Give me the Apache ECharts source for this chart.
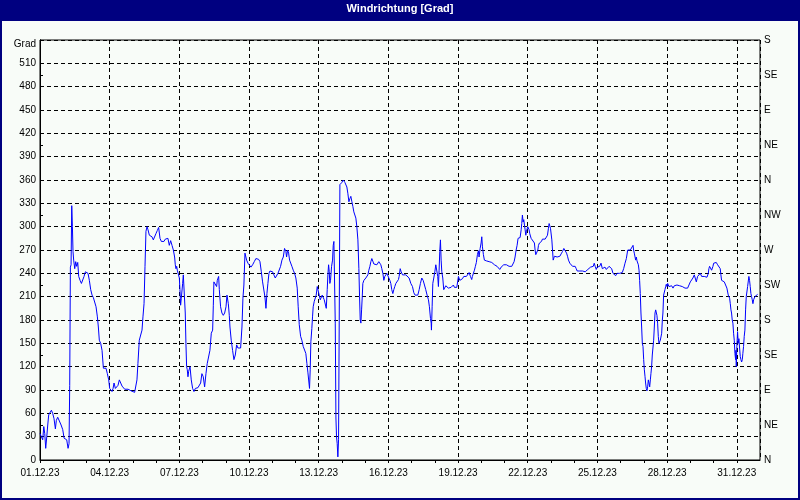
<!DOCTYPE html>
<html><head><meta charset="utf-8">
<script src="https://cdn.jsdelivr.net/npm/echarts@6/dist/echarts.min.js"></script>
<style>html,body{margin:0;padding:0;background:#F8FCF8}#c{width:800px;height:500px}</style>
</head><body><div id="c"></div>
<script>
const titleText = 'Windrichtung [Grad]';
const unitLabel = 'Grad';
const dateLabels = ['01.12.23','04.12.23','07.12.23','10.12.23','13.12.23','16.12.23','19.12.23','22.12.23','25.12.23','28.12.23','31.12.23'];
const compassLabels = ['N','NE','E','SE','S','SW','W','NW','N','NE','E','SE','S'];
// [hours since 01.12.23 00:00, wind direction in degrees]
const directionReadings = [
[0,34],[1.4,30],[2.8,26],[3.9,43],[4.9,34],[5.9,15],[7.0,30],[8.0,45],[9.0,58],[10.4,56],[11.8,64],[13.1,60],[14.5,53],[15.9,40],[16.9,51],[18.3,55],[20.0,54],[21.8,45],[23.5,39],[24.9,28],[26.2,26],[27.6,26],[29.0,15],[30.0,21],[30.7,96],[31.4,248],[32.1,251],[32.8,327],[33.5,300],[34.1,268],[34.8,257],[35.9,246],[36.9,255],[37.9,249],[39.0,254],[40.0,236],[41.4,231],[42.8,227],[44.1,229],[45.5,236],[46.9,242],[48.2,241],[49.6,240],[51.0,231],[52.4,219],[53.8,212],[55.1,209],[56.5,208],[57.9,197],[59.3,184],[60.3,171],[61.3,154],[62.7,150],[64.1,141],[65.5,118],[66.8,116],[68.2,118],[69.6,111],[71.0,103],[72.0,92],[73.4,92],[74.4,88],[75.5,92],[76.5,99],[77.9,92],[79.2,91],[80.6,96],[82.0,103],[83.4,99],[84.8,95],[86.1,93],[87.5,91],[88.9,90],[91.0,91],[92.3,90],[94.0,89],[95.7,88],[97.8,87],[99.2,89],[100.2,103],[101.2,124],[102.6,154],[104.0,156],[105.4,167],[106.4,184],[107.5,201],[108.5,249],[109.5,294],[110.6,300],[111.6,296],[113.0,289],[114.3,291],[115.7,287],[117.1,283],[118.5,281],[119.8,291],[121.2,295],[122.6,299],[124.0,285],[125.4,281],[126.7,279],[128.1,281],[129.5,284],[130.9,282],[132.2,285],[133.6,276],[135.0,282],[136.4,276],[137.8,270],[139.1,261],[139.8,251],[140.5,246],[141.2,249],[141.9,244],[142.9,246],[144.0,234],[144.6,219],[145.3,199],[146.0,208],[146.7,210],[147.4,227],[148.1,238],[149.1,238],[150.1,189],[150.8,150],[151.5,120],[152.2,116],[152.9,107],[153.6,114],[154.3,116],[155.0,120],[156.3,103],[157.7,92],[159.1,88],[160.5,92],[161.8,91],[163.2,93],[164.6,95],[166.0,99],[167.3,111],[168.7,107],[170.1,94],[171.5,111],[172.8,124],[174.2,125],[175.6,141],[177.0,163],[178.4,167],[179.1,199],[179.7,229],[181.1,229],[182.5,223],[183.2,231],[184.6,236],[185.3,219],[186.6,197],[188.0,189],[189.4,186],[190.8,189],[192.2,197],[193.2,212],[194.6,201],[195.6,186],
[196.3,171],[197.6,154],[199.0,141],[200.4,129],[201.8,135],[203.2,148],[204.5,144],[205.9,144],[207.3,144],[208.7,171],[209.7,208],[210.7,225],[211.8,266],[212.8,268],[213.5,257],[214.9,253],[216.2,251],[218.0,248],[219.7,251],[221.4,255],[223.1,259],[224.5,261],[225.9,258],[227.3,255],[228.7,242],[230.0,229],[231.4,227],[232.4,210],[233.5,195],[234.5,214],[235.5,227],[236.6,240],[237.6,243],[239.0,245],[240.3,242],[241.7,238],[243.1,234],[244.5,236],[245.9,240],[247.2,242],[248.6,249],[250.0,257],[251.4,261],[252.7,272],[254.1,268],[254.8,261],[255.8,270],[256.9,266],[257.9,257],[259.3,255],[260.3,249],[261.7,244],[263.1,240],[264.4,234],[265.8,221],[266.8,197],[267.9,174],[269.3,159],[270.6,154],[272.0,146],[273.4,146],[274.7,137],[275.8,124],[276.8,113],[277.9,111],[278.5,92],[279.2,116],[279.9,152],[280.9,169],[281.6,184],[282.3,197],[283.4,204],[284.4,204],[285.4,212],[286.5,223],[287.5,223],[288.5,212],[289.6,206],[290.6,208],[291.6,212],[292.7,210],[293.7,206],[294.7,204],[295.8,195],[296.8,219],[297.5,238],[298.2,251],[298.9,242],[299.5,227],[300.2,231],[301.3,249],[302.3,257],[303.0,276],[303.7,281],[304.4,283],[305.1,176],[305.8,54],[306.4,30],[307.1,21],[307.8,4],[308.5,26],[309.2,180],[309.9,354],[310.6,352],[311.3,354],[312.0,357],[312.6,358],[313.3,360],[314.0,358],[315.0,357],[316.1,358],[317.1,351],[318.1,343],[319.2,332],[320.2,336],[321.2,339],[322.3,332],[323.3,326],[324.3,319],[325.4,317],[326.4,311],[327.4,300],[328.5,283],[329.5,246],[330.2,210],[330.9,180],[331.6,176],[332.3,193],[333.0,210],[333.6,227],[334.7,231],[335.7,229],[336.7,234],[337.8,236],[338.8,238],[339.8,244],[340.9,249],[341.9,255],[342.9,259],[344.0,257],[345.0,252],[346.0,254],[347.0,253],[348.1,251],[349.1,253],[350.1,255],[351.2,254],[352.2,251],[353.2,246],[354.3,240],[355.3,231],[356.3,236],[357.4,237],[358.4,240],[359.4,241],[360.4,238],[361.5,231],[362.5,227],[363.5,219],[364.6,214],[365.6,219],[366.6,223],[367.7,227],[369.0,229],[370.4,232],[371.1,236],
[372.2,246],[373.2,242],[374.6,238],[376.3,238],[378.0,238],[379.7,236],[381.4,234],[383.2,227],[384.9,223],[386.3,215],[387.6,212],[389.0,214],[390.4,212],[391.8,219],[393.1,227],[394.5,234],[395.9,231],[397.3,225],[398.6,219],[400.0,212],[401.4,206],[402.4,197],[403.5,182],[404.2,176],[404.5,167],[405.2,197],[405.9,227],[406.9,234],[408.0,242],[409.0,251],[410.0,249],[411.0,236],[411.7,223],[412.4,244],[413.1,268],[413.8,283],[414.5,257],[415.2,242],[416.2,234],[417.2,219],[418.3,219],[419.3,224],[420.7,222],[422.0,221],[423.4,221],[424.8,222],[426.2,223],[427.2,225],[428.2,222],[429.6,221],[430.7,222],[431.4,223],[432.4,236],[433.8,231],[435.1,229],[436.5,233],[437.9,236],[439.3,238],[440.6,236],[442.0,238],[443.4,241],[444.8,236],[446.1,232],[446.8,236],[447.8,238],[448.9,244],[449.9,249],[450.9,254],[452.0,264],[453.0,269],[453.7,261],[454.8,272],[455.8,279],[456.5,287],[457.2,274],[458.2,264],[459.2,257],[460.3,255],[461.3,256],[462.7,257],[464.1,255],[465.4,254],[466.8,254],[468.2,253],[469.6,251],[470.9,252],[472.3,249],[473.7,248],[475.1,245],[476.5,248],[477.8,249],[479.2,251],[480.6,253],[482.0,251],[483.3,250],[484.7,249],[486.1,249],[487.5,249],[488.9,251],[489.9,255],[490.9,261],[492.0,270],[493.0,276],[494.0,285],[495.1,283],[496.1,286],[497.2,296],[497.8,304],[498.5,315],[499.2,306],[499.9,309],[500.6,302],[501.3,296],[502.0,289],[502.7,294],[503.3,296],[504.0,300],[504.7,302],[505.4,296],[506.1,291],[506.8,288],[507.5,285],[508.2,284],[509.5,283],[510.9,279],[511.6,270],[512.3,264],[513.4,266],[514.4,270],[515.1,276],[516.1,279],[517.2,278],[518.2,281],[519.2,284],[520.6,285],[522.0,284],[523.4,283],[524.4,289],[525.4,298],[526.1,304],[526.8,301],[527.5,298],[528.2,300],[528.9,283],[529.6,270],[530.3,257],[531.0,259],[531.6,262],[533.0,261],[534.4,261],[535.8,260],[537.2,262],[538.5,265],[539.9,268],[541.3,272],[542.7,270],[544.1,266],[545.1,262],[546.1,257],[547.5,253],[548.9,251],[550.3,249],[551.6,248],[553.0,249],[554.1,246],[555.1,243],[556.5,243],[557.8,243],[559.2,243],[560.6,243],[562.0,243],[563.4,242],[564.7,241],[566.1,245],[567.5,246],[568.9,248],[570.3,246],[571.7,249],[572.7,253],[573.7,249],[574.8,245],[575.8,248],[577.2,246],
[578.3,249],[579.7,253],[581.1,246],[582.5,244],[583.8,248],[585.2,245],[586.6,246],[588.0,249],[589.4,249],[590.7,246],[592.1,240],[593.5,241],[594.9,237],[596.2,240],[597.6,238],[599.0,240],[600.4,238],[601.7,241],[603.1,246],[604.5,253],[605.9,259],[607.3,270],[608.6,271],[610.0,270],[611.4,272],[612.8,276],[613.4,270],[614.1,266],[615.5,257],[616.2,261],[616.9,256],[617.6,255],[618.3,251],[619.0,244],[619.6,231],[620.3,214],[621.0,189],[621.7,171],[622.4,150],[623.1,146],[623.8,129],[624.5,116],[625.2,107],[625.8,99],[626.5,92],[627.2,89],[627.9,94],[628.6,103],[629.3,99],[630.0,94],[630.7,103],[631.3,111],[632.0,120],[632.7,135],[633.4,137],[634.1,154],[634.8,171],[635.5,189],[636.2,193],[636.9,195],[637.5,186],[638.2,176],[638.9,159],[639.6,150],[640.3,148],[641.0,154],[641.7,156],[642.4,163],[643.1,180],[643.7,189],[644.4,212],[645.1,214],[645.8,219],[646.5,223],[647.2,226],[647.9,223],[648.6,227],[649.9,223],[651.3,222],[652.7,224],[654.1,221],[655.4,224],[656.8,223],[658.2,225],[659.6,223],[661.0,224],[662.3,222],[663.7,223],[665.1,221],[666.5,221],[667.8,222],[669.2,221],[670.6,225],[672.0,229],[673.3,231],[674.7,234],[676.1,238],[677.5,236],[678.2,229],[679.5,236],[680.9,238],[682.3,240],[683.0,242],[683.7,236],[684.4,238],[685.0,235],[686.4,236],[687.8,237],[689.2,235],[690.6,240],[691.2,246],[691.9,249],[692.6,251],[693.3,248],[694.0,244],[694.7,246],[695.4,249],[696.1,253],[696.7,255],[697.4,255],[698.8,254],[700.2,251],[701.6,249],[702.9,246],[703.6,238],[704.3,231],[705.7,231],[707.1,229],[708.5,227],[709.8,221],[711.2,212],[712.6,208],[713.3,201],[714.0,193],[714.6,189],[715.3,180],[716.0,176],[716.7,163],[717.4,154],[718.1,137],[718.8,129],[719.1,141],[719.5,120],[720.1,146],[720.8,165],[721.5,150],[722.2,156],[722.9,144],[723.6,133],[724.3,129],[725.0,126],[725.7,129],[726.3,137],[727.0,146],[727.7,159],[728.4,167],[729.1,193],[729.8,210],[730.5,212],[731.2,223],[731.9,224],[732.5,236],[733.2,231],[733.9,223],[734.6,214],[735.3,210],[736.0,206],[736.7,201],[737.4,206],[738.0,208],[738.7,210],[740.1,212],[741.5,213]
];

const FONT = '"Liberation Sans", Arial, sans-serif';
const chart = echarts.init(document.getElementById('c'), null, {renderer: 'canvas'});
chart.setOption({
  animation: false,
  backgroundColor: '#F8FCF8',
  textStyle: {fontFamily: FONT},
  title: {
    text: titleText, left: 'center', top: 3, padding: 0, z: 10,
    textStyle: {color: '#ffffff', fontSize: 11, fontWeight: 'bold', fontFamily: FONT}
  },
  graphic: [
    {type: 'rect', silent: true, z: 1, shape: {x: 0, y: 0, width: 800, height: 21}, style: {fill: '#000080'}},
    {type: 'rect', silent: true, z: 1, shape: {x: 1, y: 1, width: 798, height: 498}, style: {fill: null, stroke: '#000080', lineWidth: 2}}
  ],
  grid: {left: 40, right: 40, top: 40, bottom: 40, show: true, borderColor: '#000', borderWidth: 1, backgroundColor: 'transparent'},
  xAxis: [
    {
      type: 'value', min: 0, max: 744, interval: 24, position: 'bottom',
      axisLine: {show: true, lineStyle: {color: '#000', width: 1}},
      axisTick: {show: true, length: 3, lineStyle: {color: '#000'}},
      axisLabel: {
        color: '#000', fontSize: 10, margin: 8, showMaxLabel: false, fontFamily: FONT,
        formatter: v => (v % 72 === 0 && dateLabels[v / 72]) ? dateLabels[v / 72] : ''
      },
      splitLine: {show: false}
    },
    {
      type: 'value', min: 0, max: 744, interval: 72, position: 'bottom',
      axisLine: {show: false}, axisTick: {show: false}, axisLabel: {show: false},
      splitLine: {show: true, lineStyle: {color: '#000', width: 1, type: [4, 3]}}
    }
  ],
  yAxis: [
    {
      type: 'value', min: 0, max: 540, interval: 30, position: 'left',
      axisLine: {show: true, lineStyle: {color: '#000', width: 1}},
      axisTick: {show: false},
      axisLabel: {
        color: '#000', fontSize: 10, margin: 4, fontFamily: FONT,
        formatter: v => v === 540 ? '{g|' + unitLabel + '}' : String(v),
        rich: {g: {fontSize: 10, color: '#000', fontFamily: FONT, padding: [8, 0, 0, 0]}}
      },
      splitLine: {show: true, lineStyle: {color: '#000', width: 1, type: [4, 3]}}
    },
    {
      type: 'value', min: 0, max: 540, interval: 45, position: 'right',
      axisLine: {show: true, lineStyle: {color: '#000', width: 1}},
      axisTick: {show: true, length: 3, lineStyle: {color: '#000'}},
      axisLabel: {color: '#000', fontSize: 10, margin: 4, fontFamily: FONT, formatter: v => compassLabels[Math.round(v / 45)] || ''},
      splitLine: {show: false}
    }
  ],
  series: [{
    type: 'line', xAxisIndex: 0, yAxisIndex: 0, data: directionReadings,
    showSymbol: false, symbol: 'none', z: 5,
    lineStyle: {color: '#0000ff', width: 1}, itemStyle: {color: '#0000ff'}
  }]
});
</script></body></html>
